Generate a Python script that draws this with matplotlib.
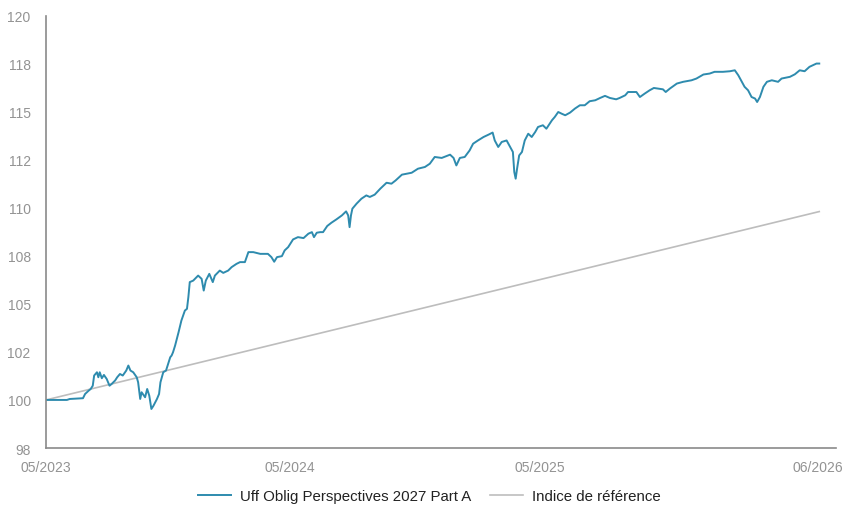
import datetime as dt
import matplotlib
matplotlib.use("Agg")
import matplotlib.pyplot as plt
import matplotlib.dates as mdates

plt.rcParams['font.family'] = ['Liberation Sans', 'DejaVu Sans']

start = dt.date(2023, 5, 26)

# fund: days since start, value (base 100)
fund_days = [0, 30, 34, 53, 56, 61, 64, 67, 69, 73, 75, 77, 80, 83, 87, 91, 94, 99, 102, 106,
             110, 115, 118, 121, 125, 130, 132, 135, 137, 142, 145, 148, 151, 154, 159, 162, 164,
             168, 172, 175, 178, 180, 182, 185, 190, 194, 199, 202, 204, 206, 211, 218, 223, 226,
             229, 234, 239, 242, 249, 254, 261, 266, 273, 278, 285, 290, 297, 307, 318, 323, 327,
             331, 338, 342, 347, 354, 361, 369, 376, 381, 384, 388, 393, 397, 403, 409, 416, 424,
             430, 433, 435, 437, 439, 445, 452, 459, 464, 471, 479, 488, 495, 501, 510, 517, 524,
             533, 543, 550, 557, 567, 574, 579, 584, 588, 593, 600, 607, 612, 619, 627, 634, 640,
             643, 648, 653, 660, 665, 669, 671, 673, 675, 678, 682, 686, 691, 696, 701, 705, 712,
             717, 725, 729, 734, 739, 744, 751, 758, 765, 772, 779, 787, 794, 801, 808, 817, 822,
             830, 834, 846, 851, 858, 865, 871, 877, 884, 888, 894, 904, 913, 925, 932, 942, 951,
             958, 970, 980, 987, 992, 997, 1001, 1006, 1011, 1016, 1019, 1023, 1028, 1033, 1040,
             1049, 1054, 1066, 1073, 1080, 1087, 1094, 1104, 1108]
fund_values = [100.0, 100.0, 100.05, 100.09, 100.31, 100.48, 100.57, 100.74, 101.27, 101.44,
               101.18, 101.44, 101.13, 101.30, 101.09, 100.74, 100.83, 101.01, 101.18, 101.35,
               101.27, 101.53, 101.79, 101.53, 101.44, 101.18, 100.92, 100.05, 100.40, 100.14,
               100.57, 100.22, 99.53, 99.70, 100.05, 100.31, 100.92, 101.44, 101.53, 101.87,
               102.22, 102.31, 102.48, 102.83, 103.53, 104.13, 104.65, 104.74, 105.35, 106.13,
               106.21, 106.47, 106.30, 105.69, 106.21, 106.56, 106.13, 106.47, 106.73, 106.61,
               106.73, 106.91, 107.08, 107.17, 107.17, 107.69, 107.69, 107.60, 107.60, 107.43,
               107.19, 107.43, 107.48, 107.78, 107.95, 108.35, 108.47, 108.42, 108.65, 108.73,
               108.47, 108.70, 108.73, 108.73, 109.05, 109.22, 109.39, 109.60, 109.81, 109.60,
               108.99, 109.60, 109.95, 110.21, 110.47, 110.64, 110.56, 110.68, 110.99, 111.30,
               111.25, 111.42, 111.72, 111.77, 111.82, 112.03, 112.12, 112.29, 112.64, 112.59,
               112.69, 112.76, 112.59, 112.20, 112.59, 112.64, 112.98, 113.33, 113.50, 113.68,
               113.80, 113.91, 113.50, 113.16, 113.42, 113.50, 113.16, 112.90, 111.86, 111.51,
               112.03, 112.72, 112.90, 113.50, 113.85, 113.68, 113.94, 114.20, 114.29, 114.11,
               114.55, 114.72, 114.98, 114.89, 114.81, 114.95, 115.16, 115.33, 115.33, 115.54,
               115.59, 115.71, 115.82, 115.71, 115.64, 115.71, 115.85, 116.02, 116.02, 115.76,
               115.94, 116.11, 116.23, 116.20, 116.16, 116.02, 116.20, 116.46, 116.55, 116.63,
               116.72, 116.93, 116.98, 117.07, 117.07, 117.10, 117.15, 116.89, 116.55, 116.29,
               116.11, 115.76, 115.68, 115.50, 115.76, 116.29, 116.55, 116.63, 116.55, 116.72,
               116.81, 116.94, 117.15, 117.10, 117.33, 117.50, 117.50]

# benchmark
bench_days = [0, 364, 1108]
bench_values = [100.0, 103.22, 109.8]

fund_label = "Uff Oblig Perspectives 2027 Part A"
bench_label = "Indice de référence"

xtick_days = [0, 350, 708, 1106]
ytick_values = [97.5, 100, 102.5, 105, 107.5, 110, 112.5, 115, 117.5, 120]
ytick_labels = ['98', '100', '102', '105', '108', '110', '112', '115', '118', '120']

def to_dates(days):
    return [start + dt.timedelta(days=d) for d in days]

fig = plt.figure(figsize=(8.45, 5.06), dpi=100)
ax = fig.add_axes([46/845, 57/506, 790/845, 432.5/506])

ax.plot(to_dates(bench_days), bench_values, color='#bdbdbd', lw=1.2, label=bench_label)
ax.plot(to_dates(fund_days), fund_values, color='#2E8BAE', lw=1.4, label=fund_label)

ax.set_xlim(start, start + dt.timedelta(days=1132))
ax.set_ylim(97.5, 120)
ax.set_xticks(to_dates(xtick_days))
ax.xaxis.set_major_formatter(mdates.DateFormatter('%m/%Y'))
ax.set_yticks(ytick_values)
ax.set_yticklabels(ytick_labels)

ax.tick_params(length=0, labelsize=10, labelcolor='#939393')
ax.tick_params(axis='y', pad=11)
ax.tick_params(axis='x', pad=9)
for s in ['top', 'right']:
    ax.spines[s].set_visible(False)
for s in ['left', 'bottom']:
    ax.spines[s].set_color('#8a8a8a')
    ax.spines[s].set_linewidth(1.2)

handles, labels = ax.get_legend_handles_labels()
leg = fig.legend(handles[::-1], labels[::-1], loc='center', bbox_to_anchor=(0.508, 0.018),
                 ncol=2, frameon=False, fontsize=10.8, handlelength=2.2, columnspacing=1.3,
                 handletextpad=0.6)
for t in leg.get_texts():
    t.set_color('#222222')

fig.savefig("out.png", dpi=100)
